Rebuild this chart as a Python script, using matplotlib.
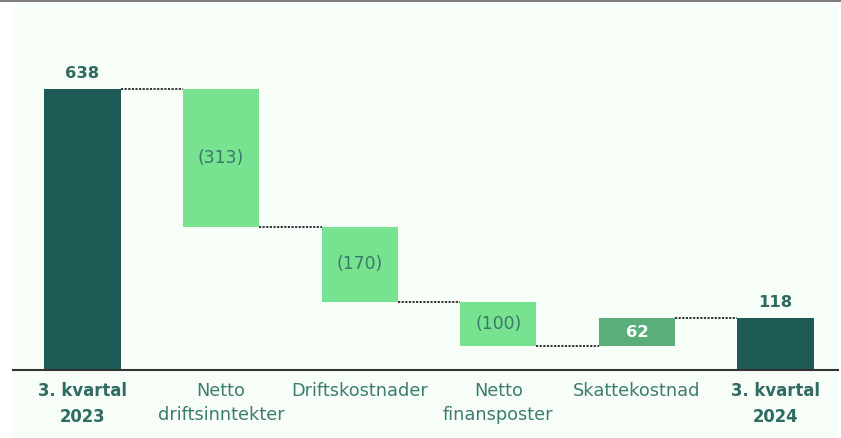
import matplotlib
matplotlib.use("Agg")
import matplotlib.pyplot as plt
from matplotlib.patches import Rectangle
import numpy as np

# data
categories = ["3. kvartal\n2023", "Netto\ndriftsinntekter", "Driftskostnader",
              "Netto\nfinansposter", "Skattekostnad", "3. kvartal\n2024"]
values = [638, -313, -170, -100, 62, 118]
labels = ["638", "(313)", "(170)", "(100)", "62", "118"]
is_total = [True, False, False, False, False, True]

DARK = "#1d5a56"
LIGHT = "#77e390"
MID = "#5aae79"
TEXT = "#2f6b63"
BG = "#f7fdf7"

fig = plt.figure(figsize=(8.41, 4.38), dpi=100)
fig.patch.set_facecolor("white")
# mint panel behind the chart
fig.add_artist(Rectangle((13 / 841, 0), 825 / 841, 434 / 438,
                         transform=fig.transFigure, facecolor=BG,
                         edgecolor="none", zorder=-10))
# thin grey rule along the top
fig.add_artist(plt.Line2D([0, 1], [0.998, 0.998], color="#7f7f7f", lw=1.5,
                          transform=fig.transFigure))

ax = fig.add_axes([13 / 841, 68 / 438, 825 / 841, 363 / 438])
ax.set_facecolor("none")
ax.set_zorder(5)

x = np.arange(len(categories))
width = 0.55
running = 0
tops = []
for i, (v, tot) in enumerate(zip(values, is_total)):
    if tot:
        bottom, height = 0, v
        running = v
        color = DARK
    else:
        start = running
        running = running + v
        bottom, height = min(start, running), abs(v)
        color = LIGHT if v < 0 else MID
    ax.bar(x[i], height, width, bottom=bottom, color=color, zorder=2)
    tops.append(running)

    if tot:
        ax.text(x[i], v + 18, labels[i], ha="center", va="bottom",
                fontsize=11.8, fontweight="bold", color=TEXT)
    elif v < 0:
        ax.text(x[i], bottom + height / 2, labels[i], ha="center", va="center",
                fontsize=12.3, color="#3b7868")
    else:
        ax.text(x[i], bottom + height / 2, labels[i], ha="center", va="center",
                fontsize=11.8, fontweight="bold", color="white")

# dotted connectors between neighbouring bars
for i in range(len(values) - 1):
    ax.plot([x[i] + width / 2, x[i + 1] - width / 2], [tops[i], tops[i]],
            ls=(0, (1.2, 0.8)), color="#222222", lw=1.3, zorder=3)

ax.set_xlim(-0.501, 5.451)
ax.set_ylim(0, 824)
ax.set_yticks([])
ax.set_xticks(x)
ax.set_xticklabels(categories, fontsize=12.8, color="#3d7d71", linespacing=1.38)
for lab, tot in zip(ax.get_xticklabels(), is_total):
    if tot:
        lab.set_fontweight("bold")
        lab.set_fontsize(11.9)
        lab.set_linespacing(1.5)
        lab.set_color(TEXT)
ax.tick_params(axis="x", length=0, pad=9)
for side in ["top", "left", "right"]:
    ax.spines[side].set_visible(False)
ax.spines["bottom"].set_color("#333333")
ax.spines["bottom"].set_linewidth(1.5)

fig.savefig("out.png", dpi=100)
